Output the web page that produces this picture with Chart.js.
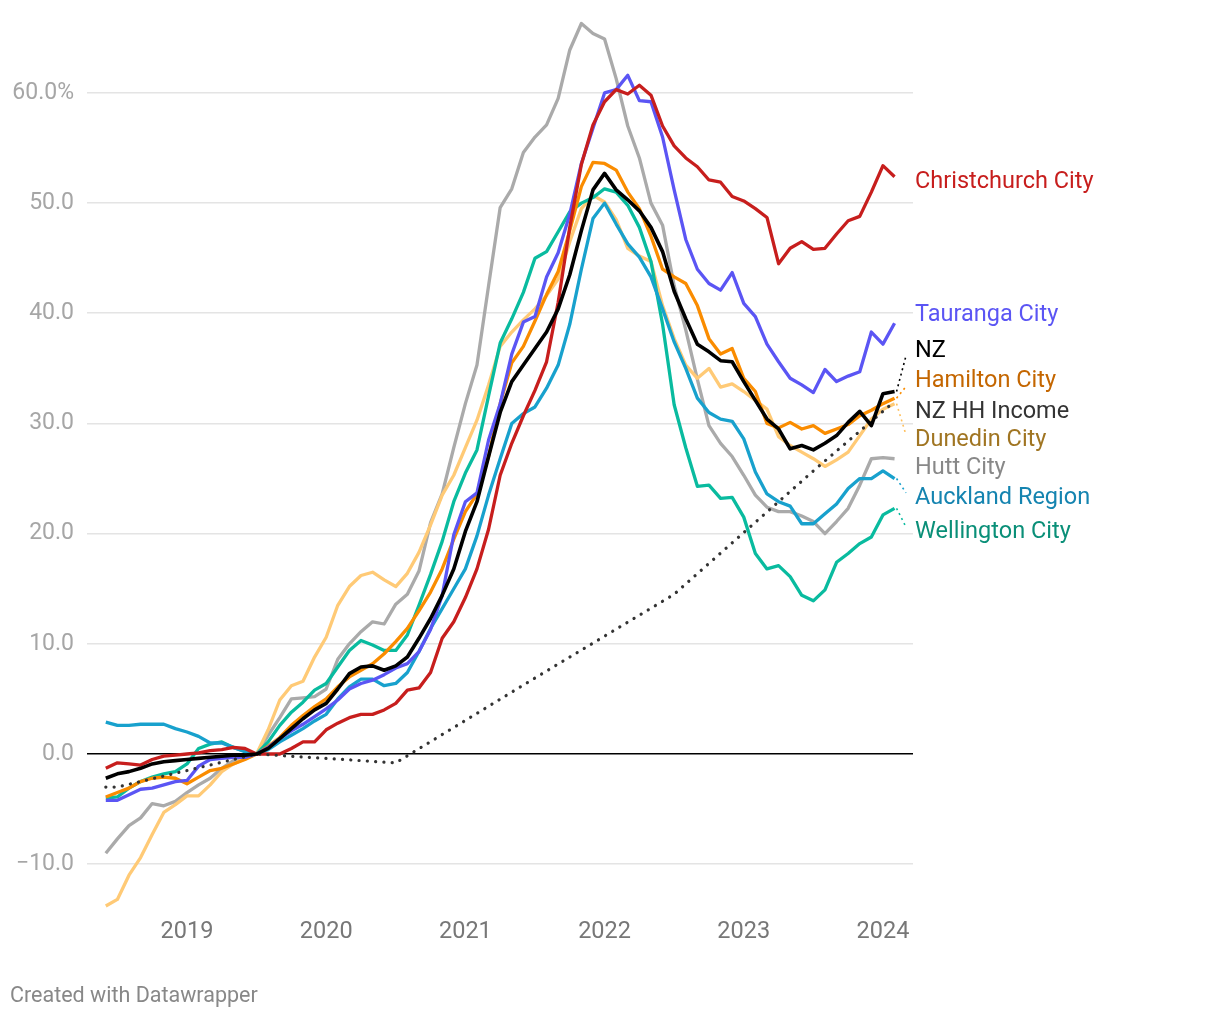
<!DOCTYPE html>
<html>
<head>
<meta charset="utf-8">
<script src="https://cdn.jsdelivr.net/npm/chart.js@4.4.1/dist/chart.umd.min.js"></script>
<style>
  body { margin: 0; background: #fff; }
  canvas { display: block; }
</style>
</head>
<body>
<canvas id="houseChart" width="1220" height="1020"></canvas>
<script>
// monthly, Jun 2018 .. Feb 2024 (% change vs Jul 2019)
const months = [];
for (let y = 2018; y <= 2024; y++) {
  for (let m = 1; m <= 12; m++) {
    const key = y + '-' + String(m).padStart(2, '0');
    if (key >= '2018-06' && key <= '2024-02') months.push(key);
  }
}

const christchurch = [-1.3,-0.8,-0.9,-1.0,-0.5,-0.2,-0.1,0.0,0.1,0.3,0.4,0.6,0.5,0.0,
  0.0,0.0,0.5,1.1,1.1, 2.2,2.8,3.3,3.6,3.6, 4.0,4.6,5.8,6.0,7.4, 10.5,12.0,14.2,16.8,20.4,
  25.3,28.2,30.7,33.0,35.6, 41.0,47.8,53.5,57.1,59.2, 60.3,59.9,60.7,59.8,57.0,
  55.2,54.1,53.3,52.1,51.9, 50.6,50.2,49.5,48.7,44.5, 45.9,46.5,45.8,45.9,47.2, 48.4,48.8,51.0,53.4,52.4];
const tauranga = [-4.2,-4.2,-3.7,-3.2,-3.1,-2.8,-2.5,-2.4,-1.1,-0.5,-0.4,-0.3,-0.3,0.0,
  0.6,1.4,2.1,2.7,3.4, 4.1,4.9,5.9,6.4,6.7, 7.2,7.8,8.2,9.3,11.3, 14.4,19.9,22.9,23.7,28.5,
  31.8,36.3,39.2,39.7,43.3, 45.5,49.0,53.6,56.8,60.0, 60.3,61.6,59.3,59.2,56.0,
  51.2,46.7,44.0,42.7,42.1, 43.7,40.9,39.7,37.2,35.6, 34.1,33.5,32.8,34.9,33.8, 34.3,34.7,38.3,37.2,39.1];
const nz = [-2.2,-1.8,-1.6,-1.3,-0.9,-0.7,-0.6,-0.5,-0.4,-0.3,-0.2,-0.1,-0.1,0.0,
  0.5,1.4,2.3,3.2,4.0, 4.6,5.9,7.3,7.9,8.0, 7.6,8.0,8.8,10.5,12.3, 14.4,16.8,20.2,22.9,27.0,
  31.0,33.8,35.3,36.8,38.3, 40.4,43.5,47.5,51.2,52.7, 51.2,50.3,49.3,47.8,45.6,
  42.0,39.5,37.2,36.5,35.7, 35.6,33.8,32.1,30.4,29.5, 27.7,28.0,27.6,28.2,28.9, 30.1,31.1,29.8,32.7,32.9];
const hamilton = [-3.9,-3.5,-3.1,-2.5,-2.2,-2.1,-2.2,-2.7,-2.1,-1.5,-1.3,-0.9,-0.5,0.0,
  0.7,1.5,2.6,3.5,4.3, 5.0,6.1,7.0,7.6,8.2, 9.1,10.2,11.4,13.0,14.7, 16.8,19.5,22.0,23.6,27.0,
  31.8,35.5,37.0,39.3,41.7, 43.8,47.5,51.5,53.7,53.6, 53.0,51.0,49.5,47.0,44.0,
  43.3,42.7,40.7,37.7,36.3, 36.8,34.1,32.9,30.0,29.6, 30.1,29.5,29.8,29.1,29.5, 29.9,30.7,31.2,31.8,32.3];
const dunedin = [-13.8,-13.2,-11.0,-9.4,-7.3,-5.3,-4.6,-3.8,-3.8,-2.8,-1.6,-0.9,-0.4,0.0,
  2.2,4.9,6.2,6.6,8.8, 10.6,13.5,15.2,16.2,16.5, 15.8,15.2,16.4,18.3,20.8, 23.5,25.3,27.8,30.3,33.5,
  37.0,38.3,39.4,40.4,41.6, 43.1,46.5,49.5,50.7,50.1, 48.5,45.9,45.2,44.7,40.7,
  37.7,35.3,34.1,35.0,33.3, 33.6,32.9,32.1,31.3,28.8, 28.0,27.4,26.8,26.1,26.7, 27.4,28.9,30.4,31.3,31.8];
const hutt = [-9.0,-7.7,-6.5,-5.8,-4.5,-4.7,-4.3,-3.5,-2.8,-2.2,-1.3,-0.6,-0.3,0.0,
  1.7,3.3,5.0,5.1,5.2, 5.9,8.6,10.0,11.1,12.0, 11.8,13.6,14.5,16.6,21.0, 23.6,27.8,31.8,35.3,42.5,
  49.6,51.3,54.6,56.0,57.1, 59.5,63.9,66.3,65.4,64.9, 61.3,57.0,54.1,50.0,48.0,
  42.5,38.5,34.0,29.8,28.2, 27.0,25.3,23.5,22.4,22.0, 22.0,21.6,21.1,20.0,21.1, 22.3,24.4,26.8,26.9,26.8];
const auckland = [2.9,2.6,2.6,2.7,2.7,2.7,2.3,2.0,1.6,1.0,1.0,0.6,0.2,0.0,
  0.4,1.1,1.7,2.3,3.0, 3.6,5.0,6.1,6.8,6.8, 6.2,6.4,7.4,9.3,11.4, 13.2,15.0,16.8,19.8,23.5,
  26.8,30.0,30.9,31.5,33.2, 35.3,39.0,44.0,48.6,50.0, 48.1,46.3,45.1,43.3,40.4,
  37.4,35.0,32.3,31.0,30.4, 30.2,28.6,25.6,23.6,22.9, 22.5,20.9,20.9,21.8,22.7, 24.1,25.0,25.0,25.7,25.0];
const wellington = [-4.0,-3.9,-3.1,-2.5,-2.1,-1.8,-1.6,-0.9,0.5,0.9,1.1,0.6,0.25,0.0,
  1.1,2.6,3.8,4.7,5.8, 6.4,7.9,9.4,10.3,9.9, 9.4,9.4,10.8,13.5,16.3, 19.3,22.9,25.5,27.6,32.5,
  37.3,39.5,41.9,45.0,45.6, 47.4,49.2,50.0,50.5,51.3, 51.0,49.8,47.8,44.7,39.0,
  31.7,27.8,24.3,24.4,23.2, 23.3,21.5,18.2,16.8,17.1, 16.1,14.4,13.9,14.9,17.4, 18.2,19.1,19.7,21.7,22.3];

// household income is only known at a few dates
const incomeMonths = ['2018-06','2018-07','2019-07','2020-07','2021-07','2022-07','2023-07','2024-02'];
const incomeValues = [-3.0, -3.0, 0.0, -0.8, 6.9, 14.5, 25.7, 32.0];

const yearTicks = ['2019','2020','2021','2022','2023','2024'];
const yTicks = [-10, 0, 10, 20, 30, 40, 50, 60];

const FONT = 'Roboto, "Noto Sans", sans-serif';

function toXY(values, keys) {
  return values.map((v, i) => ({ x: months.indexOf(keys ? keys[i] : months[i]), y: v }));
}

// series: name, values, line colour, label colour, label position (value units)
const series = [
  { name: 'Christchurch City', data: toXY(christchurch), color: '#c71e1d', text: '#c71e1d', at: 51.9 },
  { name: 'Tauranga City', data: toXY(tauranga), color: '#5b55f4', text: '#5b55f4', at: 39.8 },
  { name: 'NZ', data: toXY(nz), color: '#000000', text: '#000000', at: 36.6 },
  { name: 'Hamilton City', data: toXY(hamilton), color: '#fa8c00', text: '#c46600', at: 33.8 },
  { name: 'NZ HH Income', data: toXY(incomeValues, incomeMonths), color: '#333333', text: '#333333', at: 31.05, dotted: true },
  { name: 'Dunedin City', data: toXY(dunedin), color: '#ffca76', text: '#a07522', at: 28.5 },
  { name: 'Hutt City', data: toXY(hutt), color: '#aaaaaa', text: '#888888', at: 25.95 },
  { name: 'Auckland Region', data: toXY(auckland), color: '#18a1cd', text: '#1584b0', at: 23.25 },
  { name: 'Wellington City', data: toXY(wellington), color: '#09bb9f', text: '#0a8f78', at: 20.15 }
];

// draw order: lower number ends up on top
const drawOrder = { 'NZ': 0, 'NZ HH Income': 1, 'Christchurch City': 2, 'Tauranga City': 3,
  'Hamilton City': 4, 'Auckland Region': 5, 'Wellington City': 6, 'Dunedin City': 7, 'Hutt City': 8 };

const endLabels = {
  id: 'endLabels',
  afterDatasetsDraw(chart) {
    const ctx = chart.ctx;
    const xs = chart.scales.x, ys = chart.scales.y;
    ctx.save();
    ctx.font = '23.5px ' + FONT;
    ctx.textBaseline = 'middle';
    ctx.textAlign = 'left';
    series.forEach(s => {
      const last = s.data[s.data.length - 1];
      const px = xs.getPixelForValue(last.x), py = ys.getPixelForValue(last.y);
      const ly = ys.getPixelForValue(s.at);
      if (Math.abs(ly - py) > 12) {
        ctx.strokeStyle = s.color === '#ffca76' ? '#ffbf5a' : s.color;
        ctx.lineWidth = 1.6;
        ctx.setLineDash([2, 3.5]);
        ctx.beginPath();
        ctx.moveTo(px + 2, py);
        ctx.lineTo(906, ly + (ly < py ? 5 : -5));
        ctx.stroke();
      }
      ctx.setLineDash([]);
      ctx.fillStyle = s.text;
      ctx.fillText(s.name, 915, ly);
    });
    ctx.font = '21.5px ' + FONT;
    ctx.fillStyle = '#888888';
    ctx.textBaseline = 'middle';
    ctx.fillText('Created with Datawrapper', 10, 997);
    ctx.restore();
  }
};

new Chart(document.getElementById('houseChart'), {
  type: 'line',
  data: {
    datasets: series.map(s => ({
      label: s.name,
      data: s.data,
      borderColor: s.color,
      borderWidth: s.dotted ? 3.2 : (s.name === 'NZ' ? 3.6 : 3.3),
      borderDash: s.dotted ? [0.1, 8.2] : [],
      borderCapStyle: s.dotted ? 'round' : 'butt',
      borderJoinStyle: 'round',
      pointRadius: 0,
      tension: 0,
      fill: false,
      order: drawOrder[s.name]
    }))
  },
  plugins: [endLabels],
  options: {
    responsive: false,
    devicePixelRatio: 1,
    animation: false,
    layout: { padding: { top: 21, right: 307, bottom: 68, left: 0 } },
    plugins: { legend: { display: false }, tooltip: { enabled: false } },
    scales: {
      x: {
        type: 'linear',
        min: -1.62,
        max: 69.59,
        grid: { display: false },
        border: { display: false },
        afterBuildTicks: axis => { axis.ticks = yearTicks.map(y => ({ value: months.indexOf(y + '-01') })); },
        afterFit: axis => { axis.height = 40; axis.paddingLeft = 0; axis.paddingRight = 0; },
        ticks: {
          autoSkip: false,
          maxRotation: 0,
          padding: -2,
          color: '#777777',
          font: { family: FONT, size: 23.5 },
          callback: v => months[v] ? months[v].slice(0, 4) : ''
        }
      },
      y: {
        type: 'linear',
        min: -14.34,
        max: 66.53,
        border: { display: false },
        grid: {
          drawTicks: false,
          color: ctx => ctx.tick && ctx.tick.value === 0 ? '#000000' : '#e4e4e4',
          lineWidth: 1.6
        },
        afterBuildTicks: axis => { axis.ticks = yTicks.map(v => ({ value: v })); },
        afterFit: axis => { axis.width = 87; axis.paddingTop = 0; axis.paddingBottom = 0; },
        ticks: {
          padding: 13,
          color: '#a6a6a6',
          font: { family: FONT, size: 23 },
          callback: v => v === 60 ? '60.0%' : (v < 0 ? '\u2212' + Math.abs(v).toFixed(1) : v.toFixed(1))
        }
      }
    }
  }
});
</script>
</body>
</html>
